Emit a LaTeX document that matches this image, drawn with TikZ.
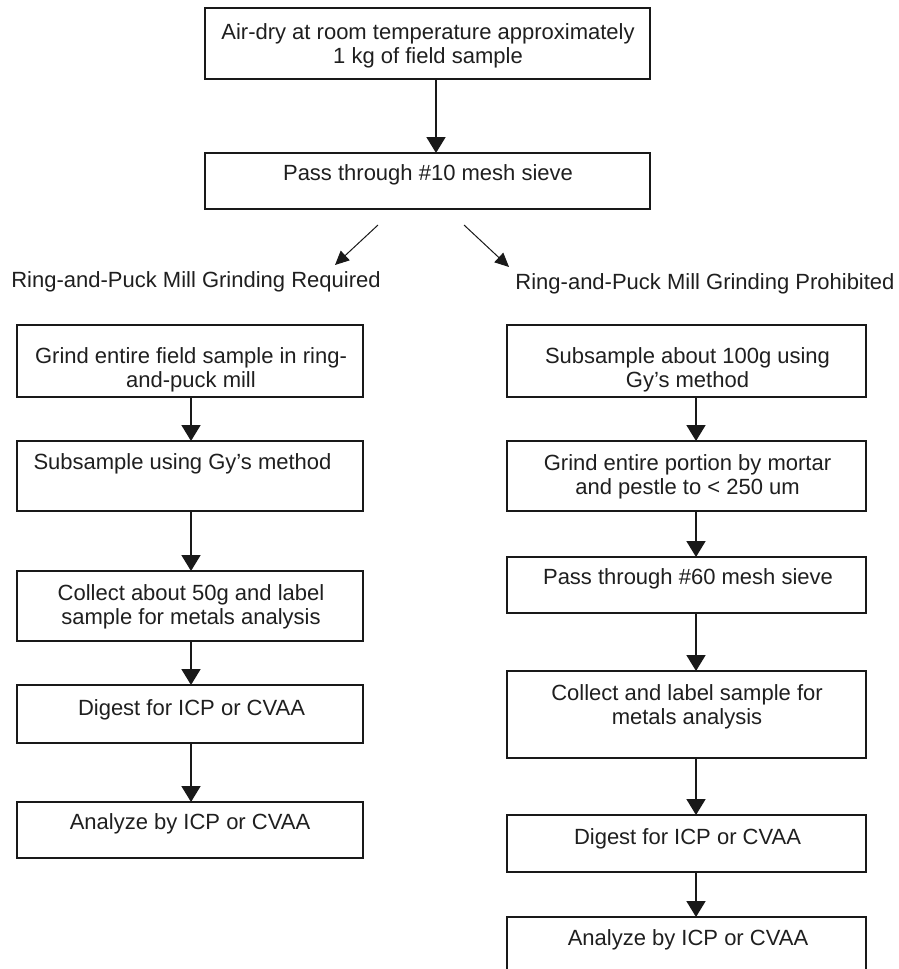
\documentclass[tikz,border=0pt]{standalone}
\usepackage{fontspec}
\setmainfont{Liberation Sans}
\usetikzlibrary{arrows.meta}

\tikzset{
  stepbox/.style={draw=black!90, line width=1.5pt, rectangle, inner sep=0pt, outer sep=0pt},
  steptext/.style={inner sep=0pt, align=center, text=black!88,
                   font=\fontsize{22}{24}\selectfont},
  flow/.style={draw=black!90, line width=1.8pt,
               -{Triangle[width=19pt,length=16pt]}},
  branch/.style={draw=black!90, line width=1pt,
                 -{Triangle[width=13pt,length=14pt]}},
}

\begin{document}
\begin{tikzpicture}[x=1pt,y=-1pt]
\useasboundingbox (0,0) rectangle (898,969);
\clip (0,0) rectangle (898,969);
\fill[white] (0,0) rectangle (898,969);

% columns along which the vertical connectors run
\coordinate (topcol) at (436,0);
\coordinate (lcol) at (191,0);
\coordinate (rcol) at (696,0);

% common trunk
\node[stepbox, minimum width=445pt, minimum height=71pt] (top) at (427.5,43.5) {};
\node[steptext] (toptext) at (428,45.5) {Air-dry at room temperature approximately\\1 kg of field sample};
\node[stepbox, minimum width=445pt, minimum height=56pt] (pass) at (427.5,181) {};
\node[steptext] (passtext) at (428,175) {Pass through \#10 mesh sieve};

% branch labels
\node[steptext] (reqlabel) at (196,282) {Ring-and-Puck Mill Grinding Required};
\node[steptext] (prolabel) at (705,284) {Ring-and-Puck Mill Grinding Prohibited};
\coordinate (bl0) at (378,225);
\coordinate (bl1) at (335,265);
\coordinate (br0) at (464,225);
\coordinate (br1) at (509,267);

% left branch: grinding required
\node[stepbox, minimum width=346pt, minimum height=72pt] (L1) at (190,361) {};
\node[steptext] (L1text) at (191,369.5) {Grind entire field sample in ring-\\and-puck mill};
\node[stepbox, minimum width=346pt, minimum height=70pt] (L2) at (190,476) {};
\node[steptext] (L2text) at (182.5,464) {Subsample using Gy’s method};
\node[stepbox, minimum width=346pt, minimum height=70pt] (L3) at (190,606) {};
\node[steptext] (L3text) at (191,607) {Collect about 50g and label\\sample for metals analysis};
\node[stepbox, minimum width=346pt, minimum height=58pt] (L4) at (190,714) {};
\node[steptext] (L4text) at (191.5,710) {Digest for ICP or CVAA};
\node[stepbox, minimum width=346pt, minimum height=56pt] (L5) at (190,830) {};
\node[steptext] (L5text) at (190,824) {Analyze by ICP or CVAA};

% right branch: grinding prohibited
\node[stepbox, minimum width=359pt, minimum height=72pt] (R1) at (686.5,361) {};
\node[steptext] (R1text) at (687.5,369.5) {Subsample about 100g using\\Gy’s method};
\node[stepbox, minimum width=359pt, minimum height=70pt] (R2) at (686.5,476) {};
\node[steptext] (R2text) at (687.5,477) {Grind entire portion by mortar\\and pestle to < 250 um};
\node[stepbox, minimum width=359pt, minimum height=56pt] (R3) at (686.5,585) {};
\node[steptext] (R3text) at (688,579) {Pass through \#60 mesh sieve};
\node[stepbox, minimum width=359pt, minimum height=87pt] (R4) at (686.5,714.5) {};
\node[steptext] (R4text) at (687,707) {Collect and label sample for\\metals analysis};
\node[stepbox, minimum width=359pt, minimum height=57pt] (R5) at (686.5,843.5) {};
\node[steptext] (R5text) at (687.5,839) {Digest for ICP or CVAA};
\node[stepbox, minimum width=359pt, minimum height=100pt] (R6) at (686.5,967) {};
\node[steptext] (R6text) at (688,940) {Analyze by ICP or CVAA};

% connectors
\draw[flow] (top.south -| topcol) -- (pass.north -| topcol);
\draw[branch] (bl0) -- (bl1);
\draw[branch] (br0) -- (br1);

\draw[flow] (L1.south -| lcol) -- (L2.north -| lcol);
\draw[flow] (L2.south -| lcol) -- (L3.north -| lcol);
\draw[flow] (L3.south -| lcol) -- (L4.north -| lcol);
\draw[flow] (L4.south -| lcol) -- (L5.north -| lcol);

\draw[flow] (R1.south -| rcol) -- (R2.north -| rcol);
\draw[flow] (R2.south -| rcol) -- (R3.north -| rcol);
\draw[flow] (R3.south -| rcol) -- (R4.north -| rcol);
\draw[flow] (R4.south -| rcol) -- (R5.north -| rcol);
\draw[flow] (R5.south -| rcol) -- (R6.north -| rcol);
\end{tikzpicture}
\end{document}
